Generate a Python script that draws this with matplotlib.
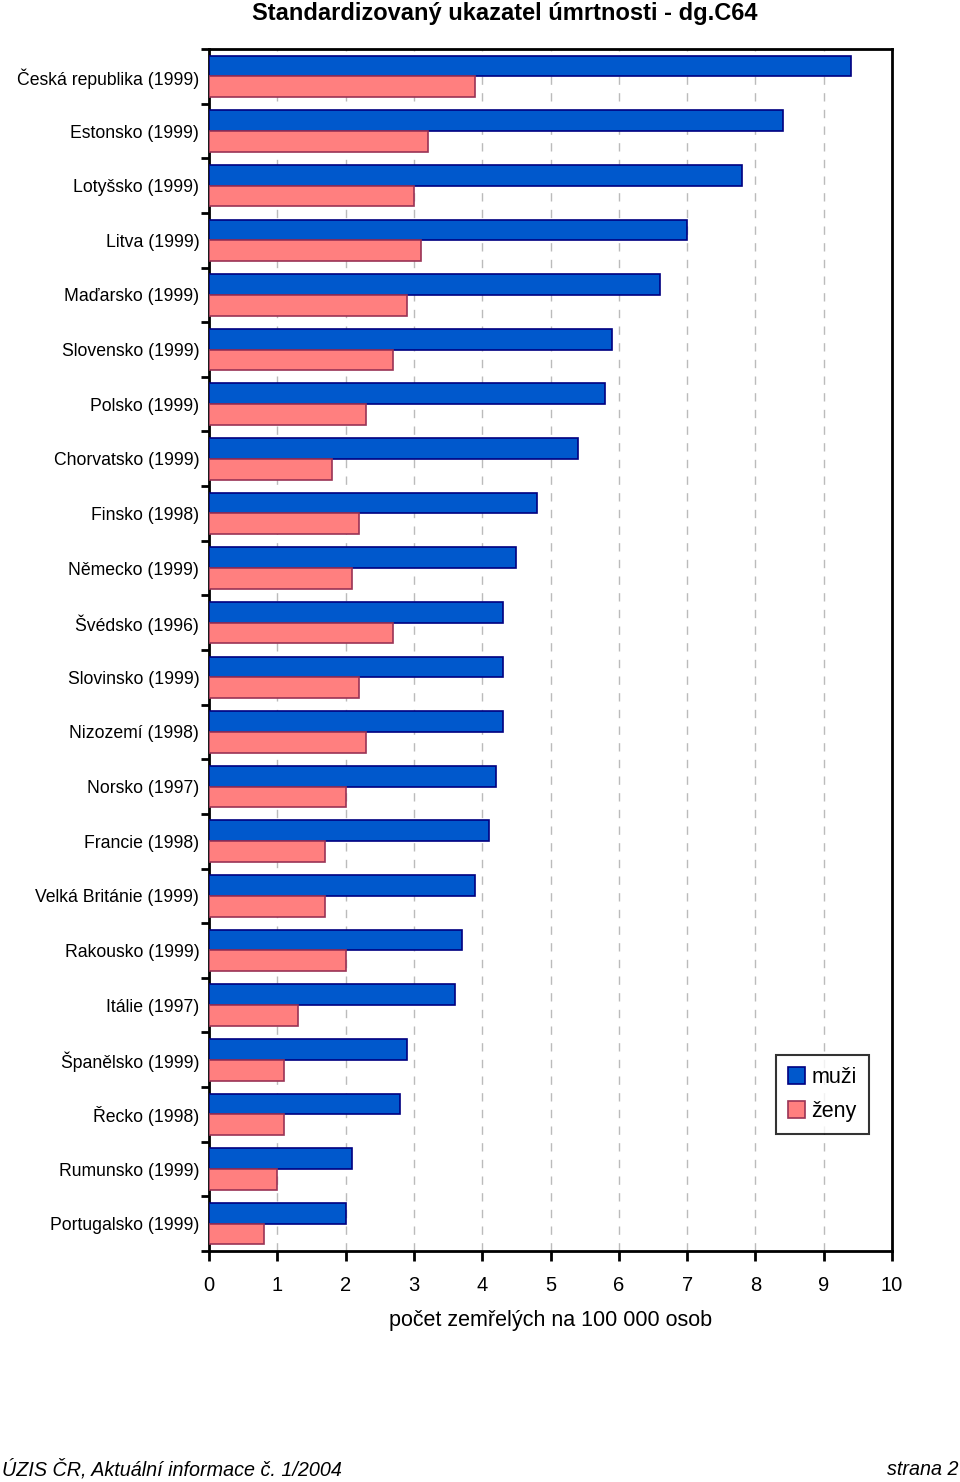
import matplotlib
matplotlib.use('Agg')
import matplotlib.pyplot as plt
from matplotlib import font_manager
import numpy as np

countries = ['Česká republika (1999)', 'Estonsko (1999)', 'Lotyšsko (1999)',
             'Litva (1999)', 'Maďarsko (1999)', 'Slovensko (1999)',
             'Polsko (1999)', 'Chorvatsko (1999)', 'Finsko (1998)',
             'Německo (1999)', 'Švédsko (1996)', 'Slovinsko (1999)',
             'Nizozemí (1998)', 'Norsko (1997)', 'Francie (1998)',
             'Velká Británie (1999)', 'Rakousko (1999)', 'Itálie (1997)',
             'Španělsko (1999)', 'Řecko (1998)', 'Rumunsko (1999)',
             'Portugalsko (1999)']
muzi = [9.4, 8.4, 7.8, 7.0, 6.6, 5.9, 5.8, 5.4, 4.8, 4.5, 4.3, 4.3, 4.3,
        4.2, 4.1, 3.9, 3.7, 3.6, 2.9, 2.8, 2.1, 2.0]
zeny = [3.9, 3.2, 3.0, 3.1, 2.9, 2.7, 2.3, 1.8, 2.2, 2.1, 2.7, 2.2, 2.3,
        2.0, 1.7, 1.7, 2.0, 1.3, 1.1, 1.1, 1.0, 0.8]
xticks = list(range(0, 11))

names = {f.name for f in font_manager.fontManager.ttflist}
narrow = 'Liberation Sans Narrow' if 'Liberation Sans Narrow' in names else 'Liberation Sans'
narrow_size = 14.5 if narrow == 'Liberation Sans Narrow' else 12.7
plt.rcParams['font.family'] = ['Liberation Sans', 'DejaVu Sans']

fig = plt.figure(figsize=(9.6, 14.82), dpi=100)
ax = fig.add_axes([0.2177, 0.1559, 0.7115, 0.8110])

y = np.arange(len(countries))
h = 0.38
ax.barh(y - 0.19, muzi, height=h, color='#0058CC', edgecolor='#000080',
        linewidth=1.2, label='muži', zorder=3)
ax.barh(y + 0.19, zeny, height=h, color='#FF7F7F', edgecolor='#993355',
        linewidth=1.2, label='ženy', zorder=3)

ax.set_xlim(0, 10)
ax.set_ylim(len(countries) - 0.5, -0.5)
ax.set_xticks(xticks)
ax.set_xticklabels([str(t) for t in xticks], fontsize=14.5)
ax.tick_params(axis='x', direction='out', length=7, width=2, pad=11)

# boundaries get tick marks, centres get the labels
ax.set_yticks(np.arange(len(countries) + 1) - 0.5)
ax.set_yticklabels([])
ax.set_yticks(y, minor=True)
ax.set_yticklabels(countries, minor=True, fontsize=narrow_size, family=narrow)
ax.tick_params(axis='y', which='major', direction='out', length=6, width=2)
ax.tick_params(axis='y', which='minor', length=0, pad=7)

for s in ax.spines.values():
    s.set_linewidth(2)

ax.grid(axis='x', linestyle=(0, (6, 6)), color='#BBBBBB', linewidth=1, zorder=0)
ax.set_axisbelow(True)

ax.set_xlabel('počet zemřelých na 100 000 osob', fontsize=15.5, labelpad=11)
fig.text(0.526, 0.9985, 'Standardizovaný ukazatel úmrtnosti - dg.C64',
         ha='center', va='top', fontsize=17, fontweight='bold')

leg = ax.legend(loc='upper left', bbox_to_anchor=(0.830, 0.163), fontsize=15.5,
                frameon=True, fancybox=False, edgecolor='black',
                borderaxespad=0, handlelength=0.8, handleheight=0.8,
                handletextpad=0.3, borderpad=0.55, labelspacing=0.6)
leg.get_frame().set_linewidth(1.5)

fig.text(0.002, 0.002, 'ÚZIS ČR, Aktuální informace č. 1/2004', ha='left',
         va='bottom', fontsize=14.2, style='italic', family=narrow)
fig.text(0.998, 0.002, 'strana 2', ha='right', va='bottom',
         fontsize=14.2, style='italic', family=narrow)

fig.savefig('out.png', dpi=100)
